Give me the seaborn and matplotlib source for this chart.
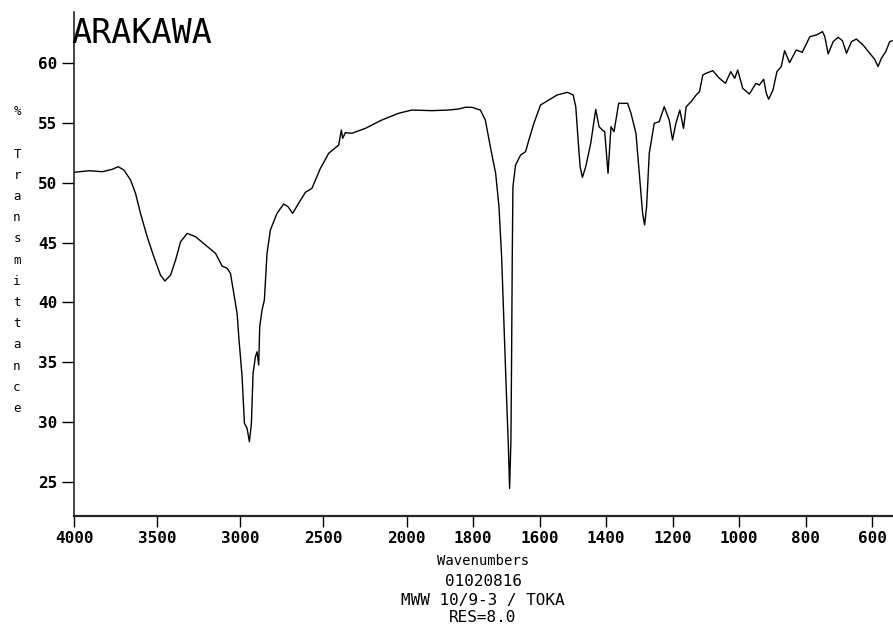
import numpy as np
import pandas as pd
import matplotlib
matplotlib.use("Agg")
import matplotlib.pyplot as plt
import seaborn as sns

# wavenumbers (cm-1) and % transmittance
wavenumber = [
    4000, 3910, 3830, 3770, 3734, 3700, 3660, 3630, 3600, 3560, 3520, 3480,
    3453, 3419, 3389, 3359, 3319, 3269, 3209, 3149, 3109, 3079, 3059, 3039,
    3019, 3009, 2989, 2975, 2959, 2945, 2933, 2923, 2909, 2899, 2889, 2883,
    2869, 2855, 2839, 2819, 2779, 2739, 2713, 2685, 2649, 2608, 2569, 2533,
    2518, 2468, 2408, 2392, 2384, 2368, 2328, 2248, 2148, 2048, 1984, 1924,
    1873, 1843, 1823, 1803, 1778, 1763, 1748, 1732, 1722, 1714, 1707, 1700,
    1694, 1690, 1686, 1684, 1682, 1680, 1672, 1657, 1642, 1632, 1617, 1597,
    1572, 1547, 1516, 1499, 1491, 1484, 1478, 1471, 1461, 1446, 1431, 1421,
    1411, 1404, 1394, 1385, 1376, 1362, 1335, 1325, 1310, 1300, 1290, 1284,
    1278, 1270, 1255, 1240, 1225, 1210, 1200, 1190, 1178, 1167, 1159, 1144,
    1129, 1119, 1109, 1099, 1079, 1059, 1041, 1025, 1013, 1004, 989, 969,
    949, 939, 926, 918, 911, 898, 886, 873, 863, 848, 828, 810,
    787, 767, 749, 742, 732, 717, 702, 689, 677, 662, 647, 627,
    607, 592, 582, 572, 559, 547, 539,
]
transmittance = [
    50.87, 51.0, 50.92, 51.12, 51.34, 51.06, 50.23, 49.11, 47.44, 45.49, 43.82, 42.29,
    41.79, 42.29, 43.54, 45.07, 45.77, 45.49, 44.8, 44.1, 43.04, 42.85, 42.43, 40.76,
    39.09, 37.13, 33.79, 29.9, 29.48, 28.36, 29.9, 34.07, 35.46, 35.88, 34.77, 37.97,
    39.36, 40.2, 44.1, 46.05, 47.44, 48.22, 48.0, 47.44, 48.28, 49.2, 49.53, 50.7,
    51.2, 52.46, 53.15, 54.4, 53.71, 54.18, 54.13, 54.54, 55.24, 55.8, 56.07, 56.02,
    56.07, 56.16, 56.3, 56.3, 56.07, 55.24, 53.01, 50.79, 48.0, 43.82, 38.25, 32.68,
    28.23, 24.47, 28.5, 35.46, 43.82, 49.67, 51.48, 52.31, 52.59, 53.57, 54.96, 56.49,
    56.91, 57.33, 57.55, 57.33, 56.35, 53.57, 51.34, 50.45, 51.34, 53.29, 56.13, 54.68,
    54.4, 54.26, 50.79, 54.68, 54.26, 56.63, 56.63, 55.8, 54.13, 50.79, 47.44, 46.47,
    48.0, 52.46, 54.96, 55.1, 56.35, 55.24, 53.57, 54.96, 56.07, 54.54, 56.35, 56.77,
    57.33, 57.6, 59.0, 59.14, 59.36, 58.72, 58.3, 59.28, 58.72, 59.42, 57.89, 57.41,
    58.3, 58.16, 58.64, 57.47, 56.97, 57.74, 59.28, 59.7, 61.03, 60.03, 61.09, 60.89,
    62.2, 62.34, 62.62, 62.2, 60.75, 61.78, 62.15, 61.86, 60.81, 61.78, 62.0, 61.5,
    60.81, 60.31, 59.7, 60.39, 60.94, 61.78, 61.86,
]
x_ticks = [4000, 3500, 3000, 2500, 2000, 1800, 1600, 1400, 1200, 1000, 800, 600]
y_ticks = [25, 30, 35, 40, 45, 50, 55, 60]

df = pd.DataFrame({"wn": wavenumber, "T": transmittance})

sns.set_style("ticks")
plt.rcParams["font.family"] = ["DejaVu Sans Mono", "DejaVu Sans"]
plt.rcParams["text.color"] = "black"

# scale doubles below 2000 cm-1, like the instrument chart
def fwd(w):
    w = np.asarray(w, dtype=float)
    return np.where(w >= 2000, w, 2 * w - 2000)

def inv(u):
    u = np.asarray(u, dtype=float)
    return np.where(u >= 2000, u, (u + 2000) / 2)

fig = plt.figure(figsize=(8.93, 6.36), dpi=100)
ax = fig.add_axes([74 / 893, 120 / 636, (893 - 74) / 893, 504 / 636])

sns.lineplot(data=df, x="wn", y="T", ax=ax, color="black", linewidth=1.0,
             estimator=None, sort=False)

ax.set_xscale("function", functions=(fwd, inv))
ax.set_xlim(4000, 537)
ax.set_ylim(22.16, 64.26)
ax.set_xticks(x_ticks)
ax.set_xticklabels([str(t) for t in x_ticks])
ax.set_yticks(y_ticks)
ax.minorticks_off()
ax.set_xlabel("")
ax.set_ylabel("")

for s in ["top", "right"]:
    ax.spines[s].set_visible(False)
ax.spines["left"].set_linewidth(1.2)
ax.spines["bottom"].set_linewidth(1.6)
ax.tick_params(axis="x", direction="out", length=8, width=1.0, pad=3,
               labelsize=11.5, colors="black")
ax.tick_params(axis="y", direction="out", length=9, width=1.0, pad=3,
               labelsize=11.5, colors="black")
for lab in ax.get_xticklabels() + ax.get_yticklabels():
    lab.set_fontweight("bold")

fig.text(71 / 893, 1 - 43 / 636, "ARAKAWA", fontsize=24, va="baseline", ha="left",
         color="black")

fig.text(17 / 893, 1 - 260 / 636, "\n".join("% Transmittance"), fontsize=9,
         ha="center", va="center", linespacing=1.82, color="black")

cx = 483 / 893
fig.text(cx, 1 - 561 / 636, "Wavenumbers", fontsize=10, ha="center", va="center")
fig.text(cx, 1 - 581 / 636, "01020816", fontsize=11.5, ha="center", va="center")
fig.text(cx, 1 - 600 / 636, "MWW 10/9-3 / TOKA", fontsize=11.5, ha="center", va="center")
fig.text(cx, 1 - 618 / 636, "RES=8.0", fontsize=11.5, ha="center", va="center")

fig.savefig("out.png", dpi=100)
